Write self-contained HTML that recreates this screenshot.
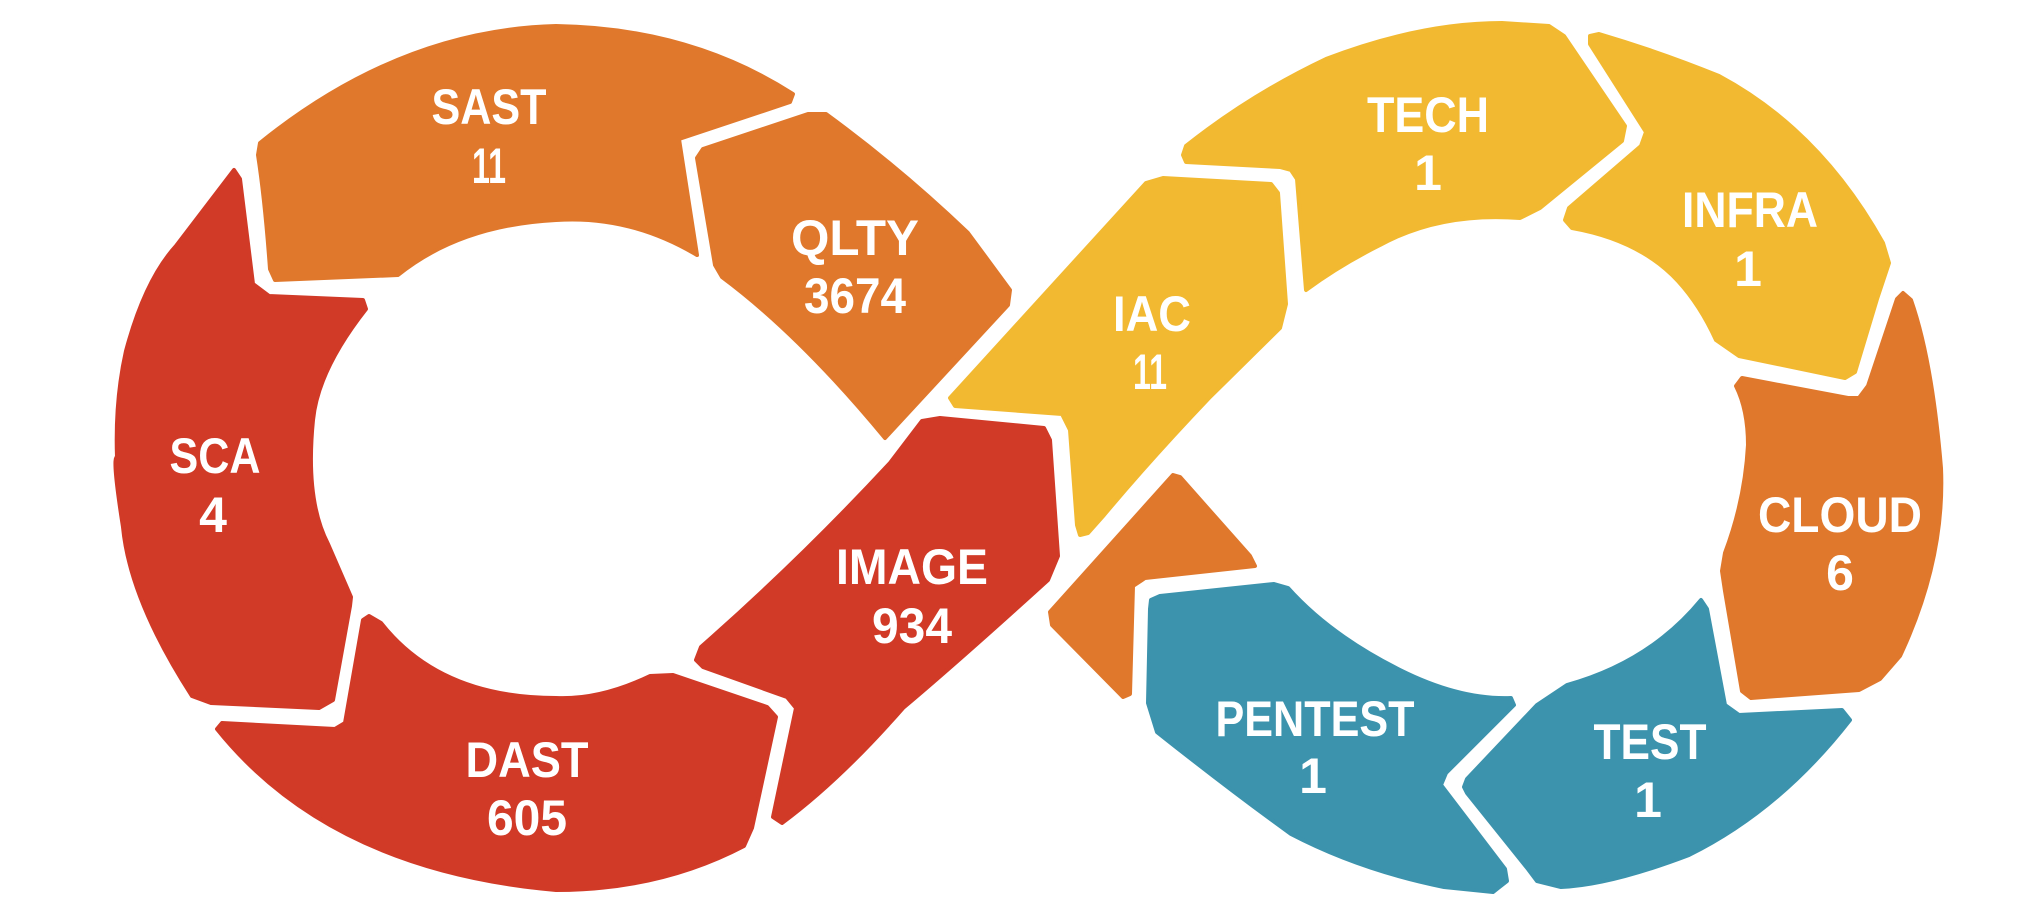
<!DOCTYPE html>
<html><head><meta charset="utf-8"><style>
html,body{margin:0;padding:0;background:#fff;width:2022px;height:918px;overflow:hidden}
svg{display:block}
text{font-family:"Liberation Sans",sans-serif;font-weight:bold;fill:#fff;text-anchor:middle}
.o{fill:#E0782C;stroke:#E0782C}.r{fill:#D13A27;stroke:#D13A27}.y{fill:#F2B931;stroke:#F2B931}.t{fill:#3C93AD;stroke:#3C93AD}
path{stroke-width:4;stroke-linejoin:round}
</style></head><body>
<svg width="2022" height="918" viewBox="0 0 2022 918" xmlns="http://www.w3.org/2000/svg">
<path class="o" d="M260 143 Q400 30 556 26 Q690 28 793 94 L790 102 L679 139 L697 255 Q630 215 556 220 Q460 225 398 275 L275 280 L270 269 Q265 200 258 155 Z"/>
<path class="o" d="M703 149 L808 114 L826 114 Q900 168 968 233 L1010 290 L1008 305 L885 438 Q800 335 722 277 L715 265 L697 158 Z"/>
<path class="r" d="M234 170 L240 179 L253 284 L269 296 L363 300 L366 309 Q318 370 313 420 Q305 500 328 544 L351 597 L350 606 L333 700 L319 708 L211 703 L192 696 Q130 600 123 527 Q112 457 117 457 Q115 400 126 351 Q145 280 176 246 Z"/>
<path class="r" d="M217 729 Q330 870 556 890 Q660 890 744 846 L752 828 L776 717 L767 707 L673 675 L650 676 Q600 700 556 698 Q440 698 381 623 L369 616 L363 620 L345 723 L335 729 L222 723 Z"/>
<path class="r" d="M922 421 L940 418 L1044 428 L1050 440 L1058 556 L1048 580 Q960 660 903 708 Q840 780 782 823 L773 817 L796 708 L787 697 L703 667 L696 660 L701 647 Q800 560 890 463 Z"/>
<path class="y" d="M1146 183 L1163 178 L1271 184 L1278 193 L1286 304 L1280 328 L1209 398 Q1150 460 1104 515 L1088 533 L1080 535 L1077 525 L1070 430 L1062 414 L955 406 L950 398 Z"/>
<path class="o" d="M1173 475 L1180 477 L1250 556 L1255 566 L1145 578 L1133 586 L1130 694 L1123 697 L1052 625 L1050 612 Z"/>
<path class="y" d="M1183 155 L1186 146 Q1250 95 1326 59 Q1420 23 1502 23 L1549 26 L1564 36 L1625 126 L1622 141 L1540 208 L1520 218 Q1440 212 1380 245 Q1340 265 1306 290 L1297 179 L1291 170 L1280 167 L1186 162 Z"/>
<path class="y" d="M1590 36 L1599 34 Q1660 52 1719 76 Q1820 130 1883 243 L1889 263 L1877 299 L1855 372 L1845 378 L1739 356 L1716 340 Q1700 305 1678 281 Q1640 240 1572 228 L1565 220 L1569 208 L1641 146 L1646 132 L1590 44 Z"/>
<path class="o" d="M1736 386 L1742 378 L1848 398 L1859 398 L1868 386 L1897 299 L1903 293 L1911 300 Q1932 360 1941 468 Q1945 560 1900 656 L1880 679 L1859 690 L1751 698 L1742 691 L1725 591 L1722 571 L1725 553 Q1745 500 1748 445 Q1748 410 1736 386 Z"/>
<path class="t" d="M1151 600 L1160 596 L1274 584 L1288 588 Q1330 635 1400 670 Q1460 700 1511 698 L1514 705 L1446 773 L1441 785 L1505 869 L1507 881 L1493 892 L1444 887 Q1360 870 1291 834 Q1230 790 1157 732 L1148 703 L1150 609 Z"/>
<path class="t" d="M1467 779 L1537 705 L1567 685 Q1650 662 1701 600 L1707 609 L1725 705 L1739 715 L1842 710 L1850 720 Q1780 810 1689 855 Q1610 885 1561 887 L1537 881 L1528 869 L1467 793 L1464 787 Z"/>

<g font-size="50">
<text x="489" y="124" textLength="115" lengthAdjust="spacingAndGlyphs">SAST</text>
<text x="489" y="183" textLength="34" lengthAdjust="spacingAndGlyphs">11</text>
<text x="855" y="255" textLength="128" lengthAdjust="spacingAndGlyphs">QLTY</text>
<text x="855" y="313" textLength="102" lengthAdjust="spacingAndGlyphs">3674</text>
<text x="215" y="473" textLength="91" lengthAdjust="spacingAndGlyphs">SCA</text>
<text x="213" y="532">4</text>
<text x="527" y="777" textLength="123" lengthAdjust="spacingAndGlyphs">DAST</text>
<text x="527" y="835" textLength="80" lengthAdjust="spacingAndGlyphs">605</text>
<text x="912" y="584" textLength="152" lengthAdjust="spacingAndGlyphs">IMAGE</text>
<text x="912" y="643" textLength="80" lengthAdjust="spacingAndGlyphs">934</text>
<text x="1152" y="331" textLength="78" lengthAdjust="spacingAndGlyphs">IAC</text>
<text x="1150" y="389" textLength="34" lengthAdjust="spacingAndGlyphs">11</text>
<text x="1428" y="132" textLength="122" lengthAdjust="spacingAndGlyphs">TECH</text>
<text x="1428" y="190">1</text>
<text x="1750" y="227" textLength="136" lengthAdjust="spacingAndGlyphs">INFRA</text>
<text x="1748" y="286">1</text>
<text x="1840" y="532" textLength="164" lengthAdjust="spacingAndGlyphs">CLOUD</text>
<text x="1840" y="590">6</text>
<text x="1315" y="736" textLength="199" lengthAdjust="spacingAndGlyphs">PENTEST</text>
<text x="1313" y="793">1</text>
<text x="1650" y="759" textLength="113" lengthAdjust="spacingAndGlyphs">TEST</text>
<text x="1648" y="817">1</text>
</g>
</svg>
</body></html>
